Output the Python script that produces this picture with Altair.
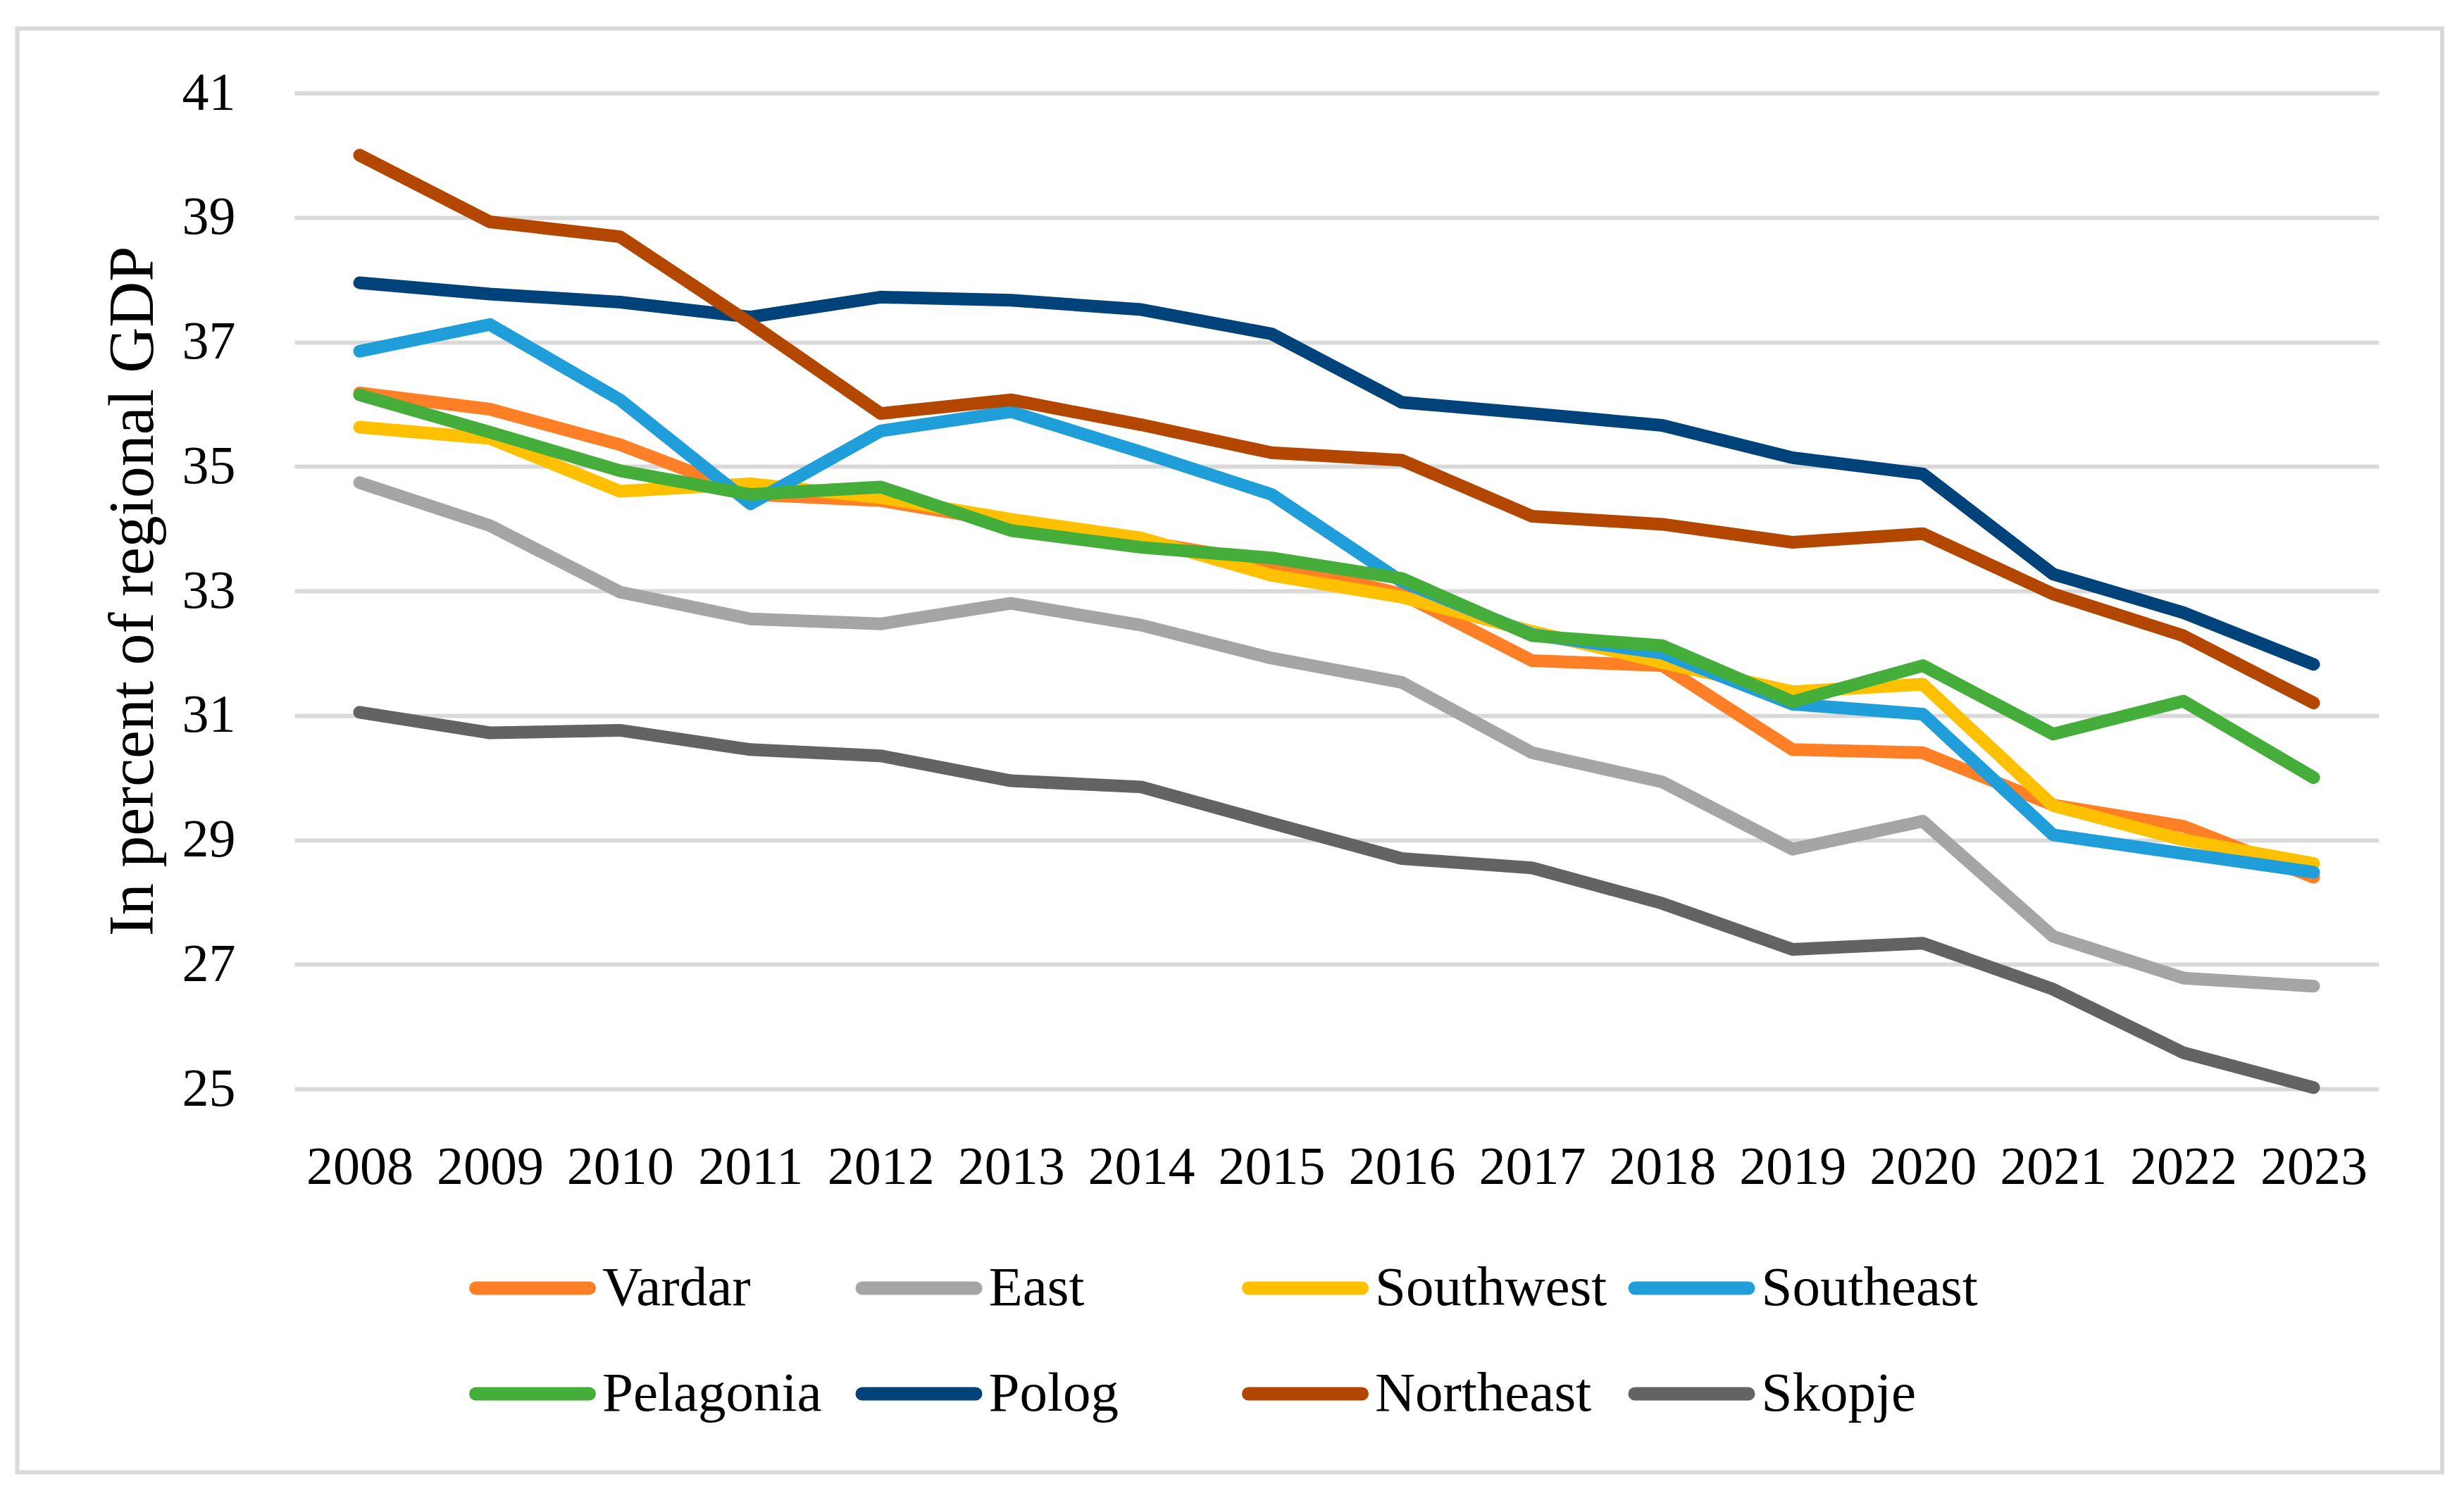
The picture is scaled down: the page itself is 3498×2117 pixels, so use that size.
import altair as alt
import pandas as pd

years = [str(y) for y in range(2008, 2024)]
regions = ["Vardar", "East", "Southwest", "Southeast", "Pelagonia", "Polog", "Northeast", "Skopje"]
colors = ["#FF7F27", "#A5A5A5", "#FFC000", "#1F9ED9", "#45AE3B", "#00427A", "#B34700", "#636363"]

vardar = [36.18, 35.92, 35.35, 34.55, 34.45, 34.1, 33.8, 33.45, 32.95, 31.88, 31.8, 30.45, 30.4, 29.56, 29.22, 28.4]
east = [34.74, 34.05, 32.98, 32.55, 32.47, 32.8, 32.45, 31.92, 31.53, 30.4, 29.93, 28.85, 29.3, 27.45, 26.78, 26.65]
southwest = [35.63, 35.45, 34.6, 34.72, 34.5, 34.15, 33.85, 33.25, 32.9, 32.35, 31.85, 31.38, 31.5, 29.55, 29.0, 28.62]
southeast = [36.85, 37.28, 36.07, 34.4, 35.57, 35.88, 35.23, 34.55, 33.15, 32.3, 32.0, 31.18, 31.02, 29.08, 28.78, 28.48]
pelagonia = [36.15, 35.55, 34.93, 34.55, 34.67, 33.97, 33.7, 33.53, 33.2, 32.28, 32.12, 31.22, 31.8, 30.7, 31.23, 30.0]
polog = [37.95, 37.77, 37.64, 37.4, 37.72, 37.67, 37.52, 37.13, 36.03, 35.85, 35.66, 35.14, 34.88, 33.27, 32.65, 31.82]
northeast = [40.0, 38.93, 38.69, 37.3, 35.85, 36.07, 35.67, 35.22, 35.1, 34.2, 34.07, 33.78, 33.92, 32.95, 32.28, 31.2]
skopje = [31.05, 30.72, 30.76, 30.45, 30.35, 29.95, 29.85, 29.27, 28.7, 28.55, 27.98, 27.24, 27.34, 26.6, 25.58, 25.02]

series = [vardar, east, southwest, southeast, pelagonia, polog, northeast, skopje]
y_ticks = [25, 27, 29, 31, 33, 35, 37, 39, 41]

rows = []
for name, vals in zip(regions, series):
    for yr, v in zip(years, vals):
        rows.append({"Year": yr, "Region": name, "Value": v})
df = pd.DataFrame(rows)

FONT = "Liberation Serif"
W, H = 2959, 1414

# legend grid layout (4 columns x 2 rows), in pixels relative to the plot area
LEG_COLS = 4
COL_STEP, ROW_STEP = 548.5, 150
SYM_X0, SYM_LEN, TXT_X0, ROW_Y0 = 257.5, 161, 437, 1697
leg = pd.DataFrame({"Region": regions})
leg["col"] = [i % LEG_COLS for i in range(len(regions))]
leg["row"] = [i // LEG_COLS for i in range(len(regions))]
leg["sx"] = SYM_X0 + COL_STEP * leg["col"]
leg["sx2"] = leg["sx"] + SYM_LEN
leg["tx"] = TXT_X0 + COL_STEP * leg["col"]
leg["ly"] = ROW_Y0 + ROW_STEP * leg["row"]

color_scale = alt.Scale(domain=regions, range=colors)

base = alt.Chart(df).mark_line(strokeWidth=18, strokeCap="round", strokeJoin="round").encode(
    x=alt.X("Year:O", sort=years, scale=alt.Scale(type="point", padding=0.5),
            axis=alt.Axis(title=None, labelAngle=0, ticks=False, domain=False, grid=False,
                          labelFont=FONT, labelFontSize=76, labelColor="black",
                          labelBaseline="alphabetic", labelPadding=134)),
    y=alt.Y("Value:Q", scale=alt.Scale(domain=[25, 41], nice=False, zero=False),
            axis=alt.Axis(title="In percent of regional GDP", values=y_ticks, ticks=False,
                          domain=False, grid=True, gridColor="#D9D9D9", gridWidth=6,
                          labelFont=FONT, labelFontSize=76, labelColor="black",
                          labelPadding=84, titleFont=FONT, titleFontSize=90,
                          titleFontWeight="normal", titleColor="black", titleX=-202,
                          titleY=707, titleAngle=270, titleAlign="center",
                          titleBaseline="alphabetic")),
    color=alt.Color("Region:N", scale=color_scale, legend=None),
)

border = alt.Chart(alt.Data(values=[{"a": 1}])).mark_rect(
    filled=False, stroke="#D9D9D9", strokeWidth=6, clip=False
).encode(
    x=alt.value(-393.5), x2=alt.value(3049), y=alt.value(-91.6), y2=alt.value(1958.4)
)

lines = alt.layer(border, *[base.transform_filter(alt.datum.Region == r) for r in regions])

leg_sym = alt.Chart(leg).mark_rule(strokeWidth=19, strokeCap="round", clip=False).encode(
    x=alt.X("sx:Q", scale=None, axis=None),
    x2="sx2:Q",
    y=alt.Y("ly:Q", scale=None, axis=None),
    color=alt.Color("Region:N", scale=color_scale, legend=None),
)
leg_txt = alt.Chart(leg).mark_text(
    font=FONT, fontSize=79, align="left", baseline="middle", color="black", clip=False
).encode(
    x=alt.X("tx:Q", scale=None, axis=None),
    y=alt.Y("ly:Q", scale=None, axis=None),
    text="Region:N",
)
legend = alt.layer(leg_sym, leg_txt)

chart = alt.layer(lines, legend).resolve_scale(x="independent", y="independent").properties(
    width=W, height=H,
    padding={"left": 410, "top": 124, "right": 113, "bottom": 563},
    autosize=alt.AutoSizeParams(type="none"),
    background="white",
).configure_view(stroke=None)

chart.save("out.html", embed_options={"renderer": "svg", "actions": False})
